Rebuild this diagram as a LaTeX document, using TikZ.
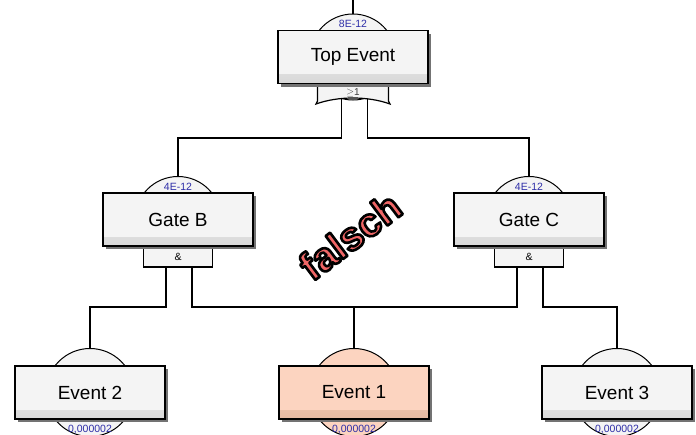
\documentclass[tikz,border=0pt]{standalone}
\usepackage{fontspec}
\setmainfont{Liberation Sans}
\usetikzlibrary{shadows,calc}
\definecolor{boxfill}{HTML}{F4F4F4}
\definecolor{boxband}{HTML}{D8D8D8}
\definecolor{peach}{HTML}{FCD4C0}
\definecolor{peachband}{HTML}{E6B9A2}
\definecolor{lblue}{HTML}{2E2EA8}
\definecolor{falschred}{HTML}{F06666}
\newcommand{\outlinedtext}[1]{\special{pdf:literal direct 2 Tr 2.6 w 1 j 0 G}#1\special{pdf:literal direct 0 Tr}}
\begin{document}
\begin{tikzpicture}[x=1pt,y=-1pt,line width=1pt,
  ebox/.style={rectangle,draw=black,line width=1.3pt,fill=boxfill,
    minimum width=150pt,minimum height=53pt,inner sep=0pt,
    font=\fontsize{19}{21}\selectfont,
    drop shadow={shadow xshift=3pt,shadow yshift=-3pt,fill=black!55,opacity=1},
    path picture={\shade[top color=boxfill,bottom color=boxband]
      (path picture bounding box.south west) rectangle
      ([yshift=9pt]path picture bounding box.south east);}},
  pbox/.style={ebox,fill=peach,
    path picture={\shade[top color=peach,bottom color=peachband]
      (path picture bounding box.south west) rectangle
      ([yshift=9pt]path picture bounding box.south east);}},
  gcirc/.style={circle,draw=black,line width=1pt,fill=boxfill,minimum size=86pt,inner sep=0pt},
  ecirc/.style={circle,draw=black,line width=1pt,fill=boxfill,minimum size=88pt,inner sep=0pt},
  gatebox/.style={rectangle,draw=black,line width=1.2pt,fill=boxfill,minimum width=69pt,minimum height=20pt,inner sep=0pt,font=\fontsize{10.5}{10.5}\selectfont},
  prob/.style={text=lblue,inner sep=0pt,font=\fontsize{10.5}{11}\selectfont},
  wire/.style={draw=black,line width=1.1pt}
]
\useasboundingbox (0,0) rectangle (696,434);
\fill[white] (0,0) rectangle (696,434);

% ---------- circles (behind boxes) ----------
\node[gcirc] (tc) at (353,57) {};
\node[gcirc] (bc) at (178,219.5) {};
\node[gcirc] (cc) at (529,219.5) {};
\node[ecirc] (e2c) at (90,392.5) {};
\node[ecirc,fill=peach] (e1c) at (354,392.5) {};
\node[ecirc] (e3c) at (617,392.5) {};

% ---------- probability labels ----------
\node[prob] (tp) at ($(tc.north)+(0,10)$) {8E-12};
\node[prob] (bp) at ($(bc.north)+(0,11)$) {4E-12};
\node[prob] (cp) at ($(cc.north)+(0,11)$) {4E-12};
\node[prob] (e2p) at ($(e2c.south)+(0,-8)$) {0,000002};
\node[prob] (e1p) at ($(e1c.south)+(0,-8)$) {0,000002};
\node[prob] (e3p) at ($(e3c.south)+(0,-8)$) {0,000002};

% ---------- gates ----------
\path[draw=black,line width=1.2pt,fill=boxfill]
  ($(tc)+(-35.5,26)$) -- ($(tc)+(-35.5,44)$) -- ($(tc)+(-37,47)$)
  .. controls ($(tc)+(-15,39)$) and ($(tc)+(15,39)$) .. ($(tc)+(37,47)$)
  -- ($(tc)+(35.5,44)$) -- ($(tc)+(35.5,26)$);
\node[inner sep=0pt,text=black!75,font=\fontsize{10}{10}\selectfont] (orsym) at ($(tc)+(0,36)$) {$\geq$1};
\coordinate (orL) at ($(tc)+(-11.5,41.5)$);
\coordinate (orR) at ($(tc)+(14.5,41.5)$);

\node[gatebox] (ga) at ($(bc)+(0,37.5)$) {\&};
\node[gatebox] (gc) at ($(cc)+(0,37.5)$) {\&};
\coordinate (gaL) at ($(ga.south)+(-12,0)$);
\coordinate (gaR) at ($(ga.south)+(14,0)$);
\coordinate (gcL) at ($(gc.south)+(-12,0)$);
\coordinate (gcR) at ($(gc.south)+(14,0)$);

% ---------- boxes ----------
\node[ebox] (top) at (tc) {Top Event};
\node[ebox] (gb) at (bc) {Gate B};
\node[ebox] (gcx) at (cc) {Gate C};
\node[ebox] (e2) at (e2c) {Event 2};
\node[pbox] (e1) at (e1c) {Event 1};
\node[ebox] (e3) at (e3c) {Event 3};

% ---------- connectors ----------
\coordinate (in0) at (353,0);
\draw[wire] (in0) -- (tc.north);
\draw[wire] (orL) -- ($(orL|-0,138)$) -| (bc.north);
\draw[wire] (orR) -- ($(orR|-0,138)$) -| (cc.north);
\draw[wire] (gaL) -- ($(gaL|-0,307)$) -| (e2c.north);
\draw[wire] (gaR) -- ($(gaR|-0,307)$) -- ($(gcL|-0,307)$) -- (gcL);
\draw[wire] ($(e1c.north|-0,307)$) -- (e1c.north);
\draw[wire] (gcR) -- ($(gcR|-0,307)$) -| (e3c.north);

% ---------- stamp ----------
\node[text=falschred,inner sep=0pt,rotate=37,
  font=\bfseries\fontsize{40}{40}\selectfont] (stamp) at (350,236) {\outlinedtext{falsch}};
\end{tikzpicture}
\end{document}
